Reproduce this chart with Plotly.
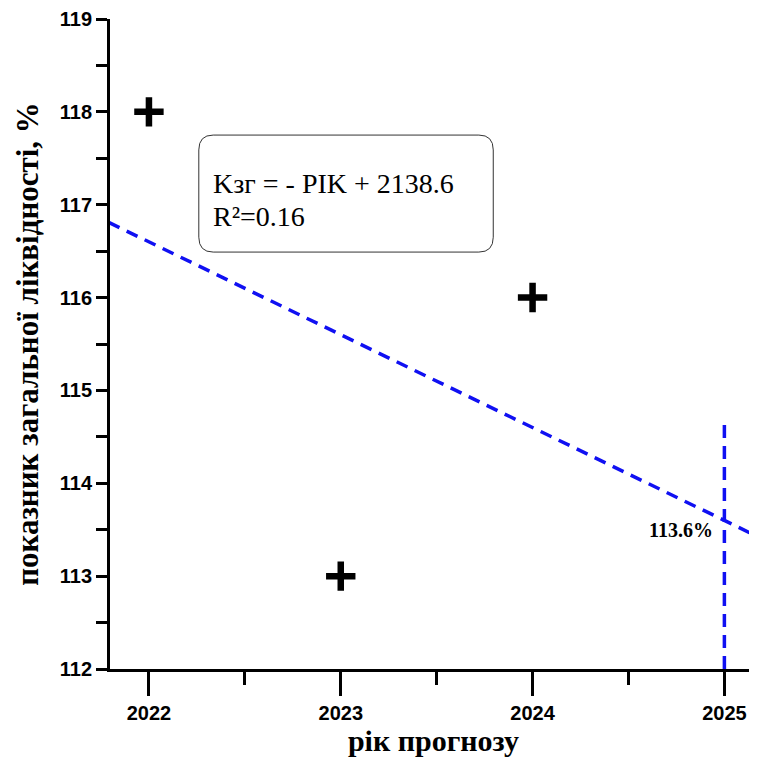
import plotly.graph_objects as go

years = [2022, 2023, 2024]
values = [118, 113, 116]
trend_x = [2021.79, 2025.2]
trend_y = [116.81, 113.4]
forecast_x = [2025, 2025]
forecast_y = [112, 114.7]
forecast_label = "113.6%"
x_ticks = [2022, 2023, 2024, 2025]
y_ticks = [112, 113, 114, 115, 116, 117, 118, 119]

BLUE = "#1010f2"
fig = go.Figure()
fig.add_trace(go.Scatter(x=trend_x, y=trend_y, mode="lines",
                         line=dict(color=BLUE, width=3.5, dash="12px,8px"),
                         hoverinfo="skip"))
fig.add_trace(go.Scatter(x=forecast_x, y=forecast_y, mode="lines",
                         line=dict(color=BLUE, width=3.5, dash="13px,8px"),
                         hoverinfo="skip"))
fig.add_trace(go.Scatter(x=years, y=values, mode="markers",
                         marker=dict(symbol="cross-thin", size=21,
                                     line=dict(color="black", width=6.5))))

# rounded box
x0, x1 = 2022.26, 2023.795
y0, y1 = 116.49, 117.75
rx, ry = 0.075, 0.16
path = (f"M {x0+rx},{y1} L {x1-rx},{y1} Q {x1},{y1} {x1},{y1-ry} "
        f"L {x1},{y0+ry} Q {x1},{y0} {x1-rx},{y0} L {x0+rx},{y0} "
        f"Q {x0},{y0} {x0},{y0+ry} L {x0},{y1-ry} Q {x0},{y1} {x0+rx},{y1} Z")
fig.add_shape(type="path", path=path, xref="x", yref="y",
              line=dict(color="#333333", width=1), fillcolor="white", layer="below")

eq_font = dict(family="Liberation Serif", size=28, color="black")
fig.add_annotation(x=2022.325, y=117.23, xref="x", yref="y",
                   text="Kзг = - PIK + 2138.6", showarrow=False,
                   xanchor="left", yanchor="middle", font=eq_font)
fig.add_annotation(x=2022.325, y=116.87, xref="x", yref="y",
                   text="R²=0.16", showarrow=False,
                   xanchor="left", yanchor="middle", font=eq_font)
fig.add_annotation(x=2024.95, y=113.5, xref="x", yref="y", text="<b>" + forecast_label + "</b>",
                   showarrow=False, xanchor="right", yanchor="middle",
                   font=dict(family="Liberation Serif", size=20, color="black"))

tickfont = dict(family="Liberation Sans", size=20, color="black", weight="bold")
fig.update_layout(
    width=749, height=752, showlegend=False,
    plot_bgcolor="white", paper_bgcolor="white",
    margin=dict(l=102, r=0, t=11, b=91),
    xaxis=dict(range=[2021.797, 2025.17], tickvals=x_ticks, showgrid=False, zeroline=False,
               showline=True, linecolor="black", linewidth=3,
               ticks="outside", ticklen=24, tickwidth=3, tickcolor="black",
               minor=dict(dtick=0.5, tick0=2022, ticks="outside", ticklen=13, tickwidth=3,
                          tickcolor="black", showgrid=False),
               tickfont=tickfont,
               title=dict(text="<b>рік прогнозу</b>", standoff=4,
                          font=dict(family="Liberation Serif", size=30, color="black"))),
    yaxis=dict(range=[112, 119], tickvals=y_ticks, showgrid=False, zeroline=False,
               showline=True, linecolor="black", linewidth=3,
               ticks="outside", ticklen=11, tickwidth=3, tickcolor="black",
               minor=dict(dtick=0.5, tick0=112, ticks="outside", ticklen=11, tickwidth=3,
                          tickcolor="black", showgrid=False),
               tickfont=tickfont,
               title=dict(text="<b>показник загальної ліквідності, %</b>", standoff=12,
                          font=dict(family="Liberation Serif", size=31, color="black"))),
)
fig.write_html("out.html")
